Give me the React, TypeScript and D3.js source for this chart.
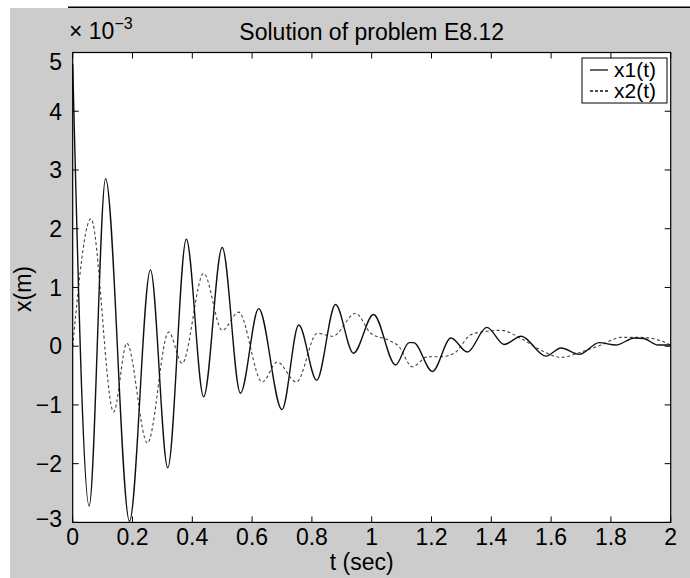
import * as d3 from "d3";

// x1(t): solid, x2(t): dashed (values in units of 1e-3 m)
const t1 = [0, 0.055, 0.11, 0.19, 0.26, 0.318, 0.38, 0.438, 0.5, 0.561, 0.622, 0.7, 0.756, 0.816, 0.879, 0.939, 1.006, 1.08, 1.125, 1.14, 1.203, 1.265, 1.32, 1.385, 1.443, 1.5, 1.583, 1.633, 1.694, 1.761, 1.817, 1.879, 1.91, 1.957, 2.0];
const x1 = [4.8, -2.72, 2.85, -2.98, 1.3, -2.07, 1.82, -0.86, 1.68, -0.8, 0.64, -1.08, 0.36, -0.58, 0.71, -0.12, 0.54, -0.32, 0.06, 0.06, -0.43, 0.14, -0.1, 0.32, 0.03, 0.17, -0.17, -0.03, -0.14, 0.06, 0.02, 0.14, 0.13, 0.02, 0.02];

const t2 = [0, 0.061, 0.137, 0.181, 0.25, 0.321, 0.366, 0.438, 0.5, 0.555, 0.634, 0.684, 0.748, 0.818, 0.87, 0.946, 0.997, 1.058, 1.09, 1.136, 1.187, 1.23, 1.276, 1.33, 1.365, 1.432, 1.5, 1.556, 1.633, 1.7, 1.767, 1.834, 1.9, 1.968, 2.0];
const x2 = [0, 2.17, -1.12, 0.05, -1.65, 0.24, -0.29, 1.24, 0.27, 0.58, -0.61, -0.27, -0.61, 0.22, 0.17, 0.56, 0.22, 0.1, 0.0, -0.35, -0.18, -0.18, -0.12, 0.19, 0.24, 0.27, 0.13, -0.04, -0.19, -0.1, 0.02, 0.15, 0.15, 0.09, 0.02];

const xTicks = [0, 0.2, 0.4, 0.6, 0.8, 1, 1.2, 1.4, 1.6, 1.8, 2];
const yTicks = [-3, -2, -1, 0, 1, 2, 3, 4, 5];
const legendLabels = ["x1(t)", "x2(t)"];

const W = 690;
const H = 578;
const FONT = "'Liberation Sans', Arial, sans-serif";
const FS = 23;

export default function App() {
  const x = d3.scaleLinear().domain([0, 2]).range([72.7, 670.7]);
  const y = d3.scaleLinear().domain([-3, 5]).range([522.4, 52.5]);
  const [x0, xR] = x.range();
  const [yB, yT] = y.range();

  const line = d3
    .line<[number, number]>()
    .x((d) => x(d[0]))
    .y((d) => y(d[1]))
    .curve(d3.curveMonotoneX);

  const s1 = t1.map((t, i) => [t, x1[i]] as [number, number]);
  const s2 = t2.map((t, i) => [t, x2[i]] as [number, number]);
  const midX = (x0 + xR) / 2;

  return (
    <svg
      width={W}
      height={H}
      style={{ position: "absolute", left: 0, top: 0 }}
      fontFamily={FONT}
    >
      <rect x={0} y={0} width={W} height={H} fill="#fff" />
      <rect x={10} y={8} width={W - 10} height={H - 8} fill="#cccccc" />
      <line x1={68} x2={W} y1={7.3} y2={7.3} stroke="#000" strokeWidth={1.4} />

      <rect x={x0} y={yT} width={xR - x0} height={yB - yT} fill="#fff" />

      <path d={line(s2) ?? ""} fill="none" stroke="#444" strokeWidth={1.1} strokeDasharray="3,2.5" />
      <path d={line(s1) ?? ""} fill="none" stroke="#111" strokeWidth={1.4} />

      {/* axes box and ticks */}
      <rect x={x0} y={yT} width={xR - x0} height={yB - yT} fill="none" stroke="#000" strokeWidth={1.2} />
      {xTicks.map((t) => (
        <g key={"xt" + t}>
          <line x1={x(t)} x2={x(t)} y1={yB} y2={yB - 6} stroke="#000" />
          <line x1={x(t)} x2={x(t)} y1={yT} y2={yT + 6} stroke="#000" />
          <text x={x(t)} y={545} fontSize={FS} textAnchor="middle" fill="#000">
            {t}
          </text>
        </g>
      ))}
      {yTicks.map((v) => (
        <g key={"yt" + v}>
          <line x1={x0} x2={x0 + 6} y1={y(v)} y2={y(v)} stroke="#000" />
          <line x1={xR} x2={xR - 6} y1={y(v)} y2={y(v)} stroke="#000" />
          <text
            x={62}
            y={Math.min(Math.max(y(v), yT + 9), yB - 4)}
            dy="0.36em"
            fontSize={FS}
            textAnchor="end"
            fill="#000"
          >
            {v < 0 ? "\u2212" + Math.abs(v) : v}
          </text>
        </g>
      ))}

      {/* exponent */}
      <text x={69} y={39} fontSize={FS} fill="#000">
        × 10
        <tspan dy={-10} fontSize={16}>
          −3
        </tspan>
      </text>

      <text x={midX} y={40} fontSize={FS} textAnchor="middle" fill="#000">
        Solution of problem E8.12
      </text>
      <text x={midX - 10} y={570} fontSize={FS} textAnchor="middle" fill="#000">
        t (sec)
      </text>
      <text
        transform={`translate(31,289) rotate(-90)`}
        fontSize={FS}
        textAnchor="middle"
        fill="#000"
      >
        x(m)
      </text>

      {/* legend */}
      <rect x={582} y={58} width={85} height={45} fill="#fff" stroke="#000" strokeWidth={1} />
      {legendLabels.map((lab, i) => (
        <g key={lab}>
          <line
            x1={590}
            x2={608}
            y1={70 + i * 21}
            y2={70 + i * 21}
            stroke="#111"
            strokeWidth={1.3}
            strokeDasharray={i === 1 ? "3,2" : undefined}
          />
          <text x={614} y={77 + i * 21} fontSize={21} fill="#000">
            {lab}
          </text>
        </g>
      ))}
    </svg>
  );
}
